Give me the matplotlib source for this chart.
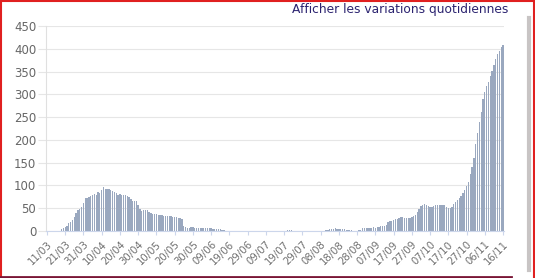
import matplotlib
matplotlib.use('Agg')
from matplotlib import pyplot as plt
from matplotlib.lines import Line2D
import pandas as pd

# daily values, 11/03 -> 16/11
debut = '2020-03-11'
fin = '2020-11-16'

vague1 = [0, 0, 0, 0, 0, 0, 0, 0,
          4, 7, 8, 12, 17, 20, 25, 31, 40, 46, 48, 52, 62, 72, 73, 75, 77, 79,
          82, 80, 86, 84, 90, 97, 93, 92, 92, 91, 88, 86, 83, 80, 81, 79, 79,
          78, 76, 74, 70, 66, 65, 65, 56, 48, 45, 46, 47, 47, 42, 40, 37, 37,
          37, 36, 36, 35, 34, 33, 33, 32, 32, 31, 30, 30, 29, 28, 26, 10, 8,
          7, 7, 8, 8, 7, 6, 6, 6, 7, 7, 7, 6, 6, 6, 5, 5, 5, 4, 4, 3, 2, 1]

ete = [0] * 33 + [2, 2, 2, 1] + [0] * 17 + \
      [2, 3, 4, 4, 5, 6, 5, 5, 4, 4, 4, 3, 3, 3, 2] + [1, 1, 1, 2, 2] + \
      [6, 7, 7, 7, 7, 7, 8, 7, 8, 9]

vague2 = [10, 11, 12, 14, 20, 22, 23, 24, 26, 27, 29, 31, 30, 28, 28, 29,
          29, 30, 33, 35, 42, 48, 55, 58, 60, 58, 55, 52, 53, 55, 56, 57,
          57, 58, 57, 57, 53, 51, 51, 53, 60, 64, 68, 72, 76, 84, 90, 98,
          108, 125, 140, 160, 190, 215, 240, 262, 290, 305, 318, 328, 340,
          352, 365, 378, 388, 396, 403, 409]

valeurs = vague1 + ete + vague2
jours = pd.date_range(debut, fin, freq='D')
etiquettes = [d.strftime('%d/%m') for d in jours]

fig = plt.figure(figsize=(5.35, 2.78), dpi=100)
ax = fig.add_axes([46 / 535, 47 / 278, 458 / 535, 205 / 278])

pos = list(range(len(valeurs)))
ax.bar(pos, valeurs, width=0.72, color='#9aa8bf', linewidth=0)

ax.set_xlim(-0.5, len(valeurs) - 0.5)
ax.set_ylim(0, 450)
ax.set_yticks(range(0, 451, 50))
ax.grid(axis='y', color='#e6e6e6', linewidth=0.8)
ax.set_axisbelow(True)

ax.set_xticks(pos[::10])
ax.set_xticklabels(etiquettes[::10], rotation=45, ha='right',
                   rotation_mode='anchor')

ax.tick_params(axis='y', length=6, color='#e6e6e6', labelsize=8.5,
               labelcolor='#666666', pad=1)
ax.tick_params(axis='x', length=3, color='#ccd6eb', labelsize=7.3,
               labelcolor='#707070', pad=3)

for s in ['top', 'right']:
    ax.spines[s].set_visible(False)
ax.spines['left'].set_color('#e0e0e0')
ax.spines['bottom'].set_color('#ccd6eb')

fig.text(508 / 535, 1 - 9 / 278, 'Afficher les variations quotidiennes',
         ha='right', va='center', fontsize=8.8, color='#2b2370')

# window frame
fig.add_artist(Line2D([0, 1], [0.997, 0.997], color='#e02020', lw=1.5))
fig.add_artist(Line2D([0.001, 0.001], [0, 1], color='#e02020', lw=1.5))
fig.add_artist(Line2D([0.998, 0.998], [0, 1], color='#e02020', lw=1.5))
fig.add_artist(Line2D([0, 0.955], [0.004, 0.004], color='#7a1535', lw=2))
fig.add_artist(Line2D([529 / 535, 529 / 535], [0.03, 1 - 18 / 278],
                      color='#c8c4c4', lw=3))

fig.savefig('out.png', dpi=100)
